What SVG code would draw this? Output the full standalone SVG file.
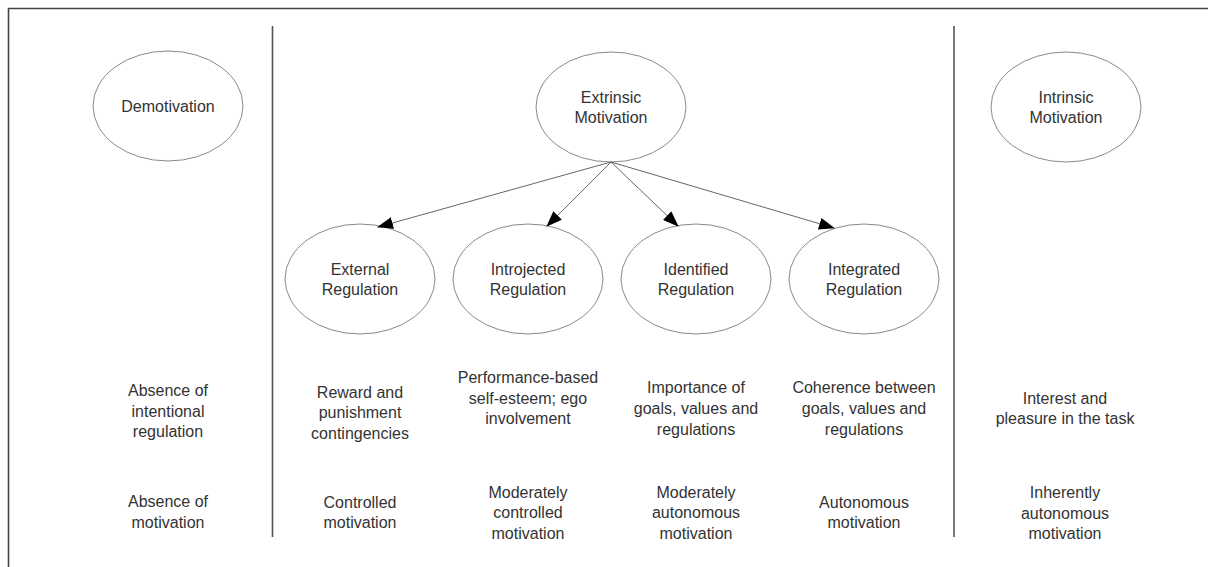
<svg xmlns="http://www.w3.org/2000/svg" width="1208" height="567" viewBox="0 0 1208 567">
<style>
text{font-family:"Liberation Sans",Arial,sans-serif;font-size:16px;fill:#333;text-anchor:middle}
.node ellipse{fill:#fff;stroke:#8a8a8a;stroke-width:1}
.div{stroke:#555;stroke-width:1.6;fill:none}
.conn line{stroke:#666;stroke-width:1}
</style>
<defs>
<marker id="ah" markerWidth="16" markerHeight="12" refX="15" refY="6" orient="auto" markerUnits="userSpaceOnUse">
<path d="M0,0 L16,6 L0,12 Z" fill="#000"/>
</marker>
</defs>
<rect width="1208" height="567" fill="#fff"/>
<path d="M8.5,567 V8.5 H1208" stroke="#444" stroke-width="1.6" fill="none"/>
<line class="div" x1="272.5" y1="26" x2="272.5" y2="537"/>
<line class="div" x1="954" y1="26" x2="954" y2="537"/>

<g id="demotivation" class="node">
<ellipse cx="168" cy="106" rx="75" ry="55"/>
<text x="168" y="112">Demotivation</text>
</g>
<g id="extrinsic" class="node">
<ellipse cx="611" cy="107" rx="75" ry="55"/>
<text x="611" y="103">Extrinsic</text>
<text x="611" y="123">Motivation</text>
</g>
<g id="intrinsic" class="node">
<ellipse cx="1066" cy="107" rx="75" ry="55"/>
<text x="1066" y="103">Intrinsic</text>
<text x="1066" y="123">Motivation</text>
</g>
<g id="external" class="node">
<ellipse cx="360" cy="279" rx="75" ry="55"/>
<text x="360" y="275">External</text>
<text x="360" y="295">Regulation</text>
</g>
<g id="introjected" class="node">
<ellipse cx="528" cy="279" rx="75" ry="55"/>
<text x="528" y="275">Introjected</text>
<text x="528" y="295">Regulation</text>
</g>
<g id="identified" class="node">
<ellipse cx="696" cy="279" rx="75" ry="55"/>
<text x="696" y="275">Identified</text>
<text x="696" y="295">Regulation</text>
</g>
<g id="integrated" class="node">
<ellipse cx="864" cy="279" rx="75" ry="55"/>
<text x="864" y="275">Integrated</text>
<text x="864" y="295">Regulation</text>
</g>

<g id="connectors" class="conn">
<line x1="611" y1="162" x2="378" y2="227" marker-end="url(#ah)"/>
<line x1="611" y1="162" x2="547" y2="226" marker-end="url(#ah)"/>
<line x1="611" y1="162" x2="678" y2="226" marker-end="url(#ah)"/>
<line x1="611" y1="162" x2="834" y2="228" marker-end="url(#ah)"/>
</g>

<g id="row1">
<text x="168" y="396">Absence of</text>
<text x="168" y="417">intentional</text>
<text x="168" y="437">regulation</text>
<text x="360" y="398">Reward and</text>
<text x="360" y="418">punishment</text>
<text x="360" y="439">contingencies</text>
<text x="528" y="383">Performance-based</text>
<text x="528" y="404">self-esteem; ego</text>
<text x="528" y="424">involvement</text>
<text x="696" y="393">Importance of</text>
<text x="696" y="414">goals, values and</text>
<text x="696" y="435">regulations</text>
<text x="864" y="393">Coherence between</text>
<text x="864" y="414">goals, values and</text>
<text x="864" y="435">regulations</text>
<text x="1065" y="404">Interest and</text>
<text x="1065" y="424">pleasure in the task</text>
</g>
<g id="row2">
<text x="168" y="507">Absence of</text>
<text x="168" y="528">motivation</text>
<text x="360" y="508">Controlled</text>
<text x="360" y="528">motivation</text>
<text x="528" y="498">Moderately</text>
<text x="528" y="518">controlled</text>
<text x="528" y="539">motivation</text>
<text x="696" y="498">Moderately</text>
<text x="696" y="518">autonomous</text>
<text x="696" y="539">motivation</text>
<text x="864" y="508">Autonomous</text>
<text x="864" y="528">motivation</text>
<text x="1065" y="498">Inherently</text>
<text x="1065" y="519">autonomous</text>
<text x="1065" y="539">motivation</text>
</g>
</svg>
